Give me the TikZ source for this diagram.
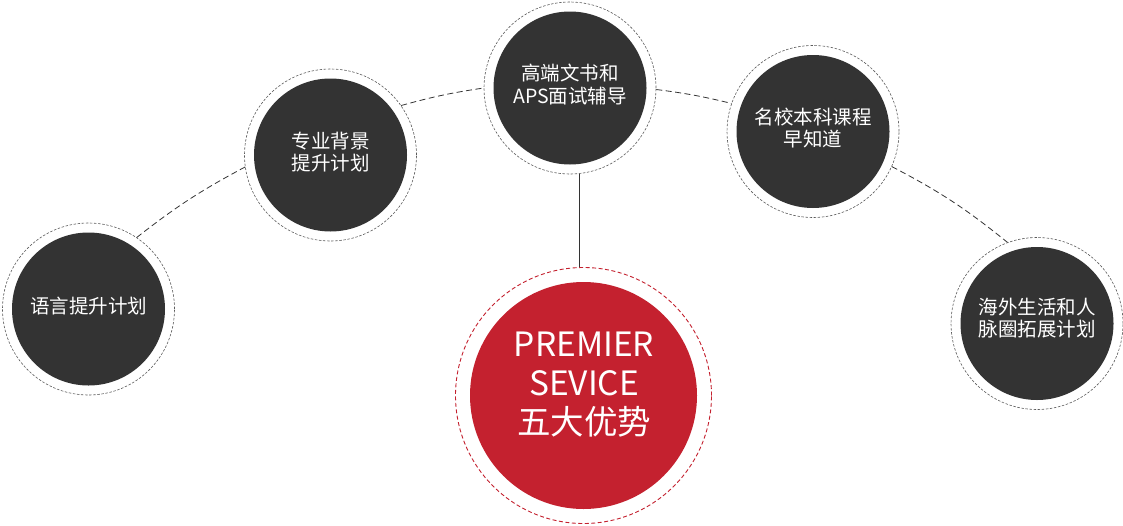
\documentclass[tikz,border=0pt]{standalone}
\usepackage{fontspec}
\newfontfamily\cjk{Noto Sans CJK SC}
\definecolor{darkc}{HTML}{333333}
\definecolor{redc}{HTML}{C4212F}
\definecolor{ringc}{HTML}{5A5A5A}
\tikzset{
  ring/.style={circle, draw=ringc, dash pattern=on 2.5pt off 1.6pt, line width=0.6pt, fill=white, minimum size=172pt, inner sep=0pt},
  disc/.style={circle, fill=darkc, minimum size=153pt, inner sep=0pt},
  disctext/.style={inner sep=0pt, text=white, font=\cjk\fontsize{19.5}{22.5}\selectfont, align=center},
  arcline/.style={draw=darkc, dash pattern=on 6pt off 3.5pt, line width=0.8pt},
  redring/.style={circle, draw=redc, dash pattern=on 4pt off 2.5pt, line width=0.9pt, fill=white, minimum size=256pt, inner sep=0pt},
  reddisc/.style={circle, fill=redc, minimum size=227pt, inner sep=0pt},
  redtext/.style={inner sep=0pt, text=white, font=\cjk\fontsize{33.5}{39}\selectfont, align=center},
  stem/.style={draw=darkc, line width=0.8pt}
}
\begin{document}
\begin{tikzpicture}[x=1pt,y=-1pt]
\useasboundingbox (0,0) rectangle (1123,525);
% rings
\node[ring] (r1) at (88.5,309) {};
\node[ring] (r2) at (330.5,155) {};
\node[ring] (r3) at (570,88) {};
\node[ring] (r4) at (813,131.5) {};
\node[ring] (r5) at (1037,323.5) {};
\node[redring] (rr) at (583.5,395.5) {};
% discs
\node[disc] (d1) at (88.5,309) {};
\node[disc] (d2) at (330.5,155) {};
\node[disc] (d3) at (570,88) {};
\node[disc] (d4) at (813,131.5) {};
\node[disc] (d5) at (1037,323.5) {};
\node[reddisc] (rd) at (583.5,395.5) {};
% texts
\node[disctext] (t1) at (88.5,306) {语言提升计划};
\node[disctext] (t2) at (330.5,152) {专业背景\\提升计划};
\node[disctext] (t3) at (570,84.5) {高端文书和\\APS面试辅导};
\node[disctext] (t4) at (813,128) {名校本科课程\\早知道};
\node[disctext] (t5) at (1037,318) {海外生活和人\\脉圈拓展计划};
\node[redtext] (tr) at (584,385) {PREMIER\\SEVICE\\五大优势};
% arc connectors
\draw[arcline] (r1.56.4) to[bend left=5] (r2.188.6);
\draw[arcline] (r2.35.3) to[bend left=3.5] (r3.180.7);
\draw[arcline] (r3.-1.3) to[bend left=3.2] (r4.161.2);
\draw[arcline] (r4.-24.8) to[bend left=5.7] (r5.110.6);
% stem
\draw[stem] (r3.-84.7) -- (r3.-84.7 |- rr.north);
\end{tikzpicture}
\end{document}
